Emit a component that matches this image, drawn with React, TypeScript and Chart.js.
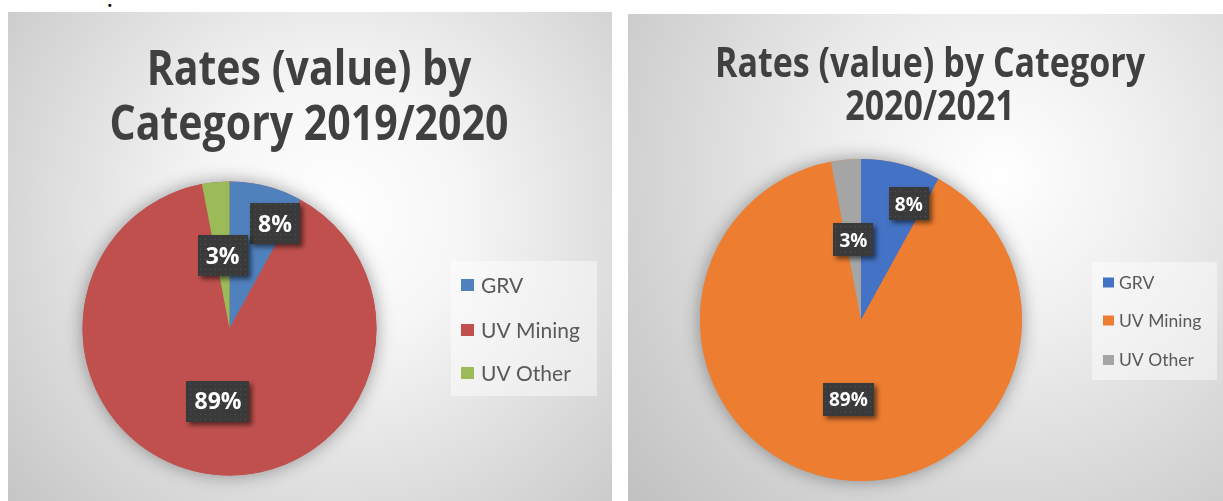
import React, { useEffect, useRef } from 'react';
import { Chart, registerables } from 'chart.js';

Chart.register(...registerables);

// ---- data ----
const categories = ['GRV', 'UV Mining', 'UV Other'];
const values1920 = [8, 89, 3];
const values2021 = [8, 89, 3];
const colors1920 = ['#4F81BD', '#C0504D', '#9BBB59'];
const colors2021 = ['#4472C4', '#ED7D31', '#A5A5A5'];
const title1920 = ['Rates (value) by', 'Category 2019/2020'];
const title2021 = ['Rates (value) by Category', '2020/2021'];

type PanelCfg = {
  x: number; y: number; w: number; h: number;
  cx: number; cy: number; r: number;
  values: number[]; colors: string[]; title: string[];
  grad: { x: number; y: number; r: number; stops: [number, string][] };
  titleFont: number; titleCenter: number; titleBaselines: number[]; titleWidth: number;
  legendBox: { x: number; y: number; w: number; h: number };
  legendFont: number; legendSq: [number, number]; legendSqX: number; legendTextX: number; legendY: number[];
  labelFont: number; labelPad: number; labelH: number;
  labelRatio: number[]; labelShift: number[];
};

const panels: PanelCfg[] = [
  {
    x: 8, y: 12, w: 604, h: 489,
    cx: 229.5, cy: 328.5, r: 147,
    values: values1920, colors: colors1920, title: title1920,
    grad: { x: 335, y: 215, r: 430, stops: [[0, '#ffffff'], [0.3, '#f6f6f6'], [1, '#c6c6c6']] },
    titleFont: 49, titleCenter: 309, titleBaselines: [85, 140], titleWidth: 399,
    legendBox: { x: 451, y: 261, w: 146, h: 135 },
    legendFont: 21, legendSq: [13, 12], legendSqX: 461, legendTextX: 481, legendY: [285, 330, 373],
    labelFont: 23, labelPad: 8, labelH: 41,
    labelRatio: [0.78, 0.5, 0.5], labelShift: [9, 0, 0],
  },
  {
    x: 628, y: 14, w: 595, h: 487,
    cx: 861, cy: 320, r: 161,
    values: values2021, colors: colors2021, title: title2021,
    grad: { x: 1000, y: 175, r: 520, stops: [[0, '#ffffff'], [0.28, '#f0f0f0'], [1, '#bdbdbd']] },
    titleFont: 42, titleCenter: 930, titleBaselines: [77, 120], titleWidth: 430,
    legendBox: { x: 1092, y: 262, w: 125, h: 118 },
    legendFont: 17.5, legendSq: [11, 10], legendSqX: 1103, legendTextX: 1119, legendY: [282.5, 320.5, 360],
    labelFont: 19, labelPad: 6, labelH: 33,
    labelRatio: [0.78, 0.5, 0.5], labelShift: [8, 0, 0],
  },
];

function makePattern(ctx: CanvasRenderingContext2D) {
  const c = document.createElement('canvas');
  c.width = 5; c.height = 5;
  const p = c.getContext('2d')!;
  p.fillStyle = '#3a3a3a';
  p.fillRect(0, 0, 5, 5);
  p.fillStyle = '#535353';
  p.fillRect(2, 2, 1, 1);
  return ctx.createPattern(c, 'repeat');
}

const TITLE_FONT = '"Open Sans"';
const LABEL_FONT = '"Open Sans"';

function makePlugin(cfg: PanelCfg) {
  return {
    id: 'panelDecor',
    beforeDraw(chart: any) {
      const ctx: CanvasRenderingContext2D = chart.ctx;
      ctx.save();
      ctx.translate(-cfg.x, -cfg.y);
      const g = ctx.createRadialGradient(cfg.grad.x, cfg.grad.y, 0, cfg.grad.x, cfg.grad.y, cfg.grad.r);
      cfg.grad.stops.forEach(([o, c]) => g.addColorStop(o, c));
      ctx.fillStyle = g;
      ctx.fillRect(cfg.x, cfg.y, cfg.w, cfg.h);
      // title
      ctx.fillStyle = '#404040';
      ctx.font = `bold ${cfg.titleFont}px ${TITLE_FONT}`;
      const widest = Math.max(...cfg.title.map((t) => ctx.measureText(t).width));
      const sx = cfg.titleWidth / widest;
      cfg.title.forEach((t, i) => {
        ctx.save();
        ctx.translate(cfg.titleCenter, cfg.titleBaselines[i]);
        ctx.scale(sx, 1);
        ctx.textAlign = 'center';
        ctx.textBaseline = 'alphabetic';
        ctx.fillText(t, 0, 0);
        ctx.restore();
      });
      // legend
      const lb = cfg.legendBox;
      ctx.fillStyle = 'rgba(255,255,255,0.45)';
      ctx.fillRect(lb.x, lb.y, lb.w, lb.h);
      ctx.font = `${cfg.legendFont}px Lato`;
      ctx.textAlign = 'left';
      ctx.textBaseline = 'alphabetic';
      categories.forEach((name, i) => {
        const yc = cfg.legendY[i];
        ctx.fillStyle = cfg.colors[i];
        ctx.fillRect(cfg.legendSqX, yc - cfg.legendSq[1] / 2, cfg.legendSq[0], cfg.legendSq[1]);
        ctx.fillStyle = '#595959';
        ctx.fillText(name, cfg.legendTextX, yc + cfg.legendFont * 0.36);
      });
      ctx.restore();
    },
    beforeDatasetsDraw(chart: any) {
      const arc = chart.getDatasetMeta(0).data[0];
      if (!arc) return;
      const ctx: CanvasRenderingContext2D = chart.ctx;
      ctx.save();
      ctx.shadowColor = 'rgba(0,0,0,0.38)';
      ctx.shadowBlur = 18;
      ctx.fillStyle = cfg.colors[1];
      ctx.beginPath();
      ctx.arc(arc.x, arc.y, arc.outerRadius, 0, Math.PI * 2);
      ctx.fill();
      ctx.restore();
    },
    afterDatasetsDraw(chart: any) {
      const meta = chart.getDatasetMeta(0);
      const ctx: CanvasRenderingContext2D = chart.ctx;
      const data: number[] = chart.data.datasets[0].data;
      const total = data.reduce((a, b) => a + b, 0);
      const pattern = makePattern(ctx);
      meta.data.forEach((arc: any, i: number) => {
        const mid = (arc.startAngle + arc.endAngle) / 2 + (cfg.labelShift[i] * Math.PI) / 180;
        const rr = arc.outerRadius * cfg.labelRatio[i];
        const lx = arc.x + Math.cos(mid) * rr;
        const ly = arc.y + Math.sin(mid) * rr;
        const text = Math.round((data[i] / total) * 100) + '%';
        ctx.save();
        ctx.font = `bold ${cfg.labelFont}px ${LABEL_FONT}`;
        const tw = ctx.measureText(text).width;
        const bw = tw + cfg.labelPad * 2;
        const bh = cfg.labelH;
        ctx.shadowColor = 'rgba(0,0,0,0.55)';
        ctx.shadowBlur = 5;
        ctx.shadowOffsetX = 3;
        ctx.shadowOffsetY = 3;
        ctx.fillStyle = pattern || '#3a3a3a';
        ctx.fillRect(Math.round(lx - bw / 2), Math.round(ly - bh / 2), Math.round(bw), bh);
        ctx.shadowColor = 'transparent';
        ctx.fillStyle = '#ffffff';
        ctx.textAlign = 'center';
        ctx.textBaseline = 'alphabetic';
        ctx.fillText(text, lx, ly + cfg.labelFont * 0.36);
        ctx.restore();
      });
    },
  };
}

function PiePanel({ cfg }: { cfg: PanelCfg }) {
  const ref = useRef<HTMLCanvasElement>(null);
  useEffect(() => {
    if (!ref.current) return;
    const lx = cfg.cx - cfg.x;
    const ly = cfg.cy - cfg.y;
    const chart = new Chart(ref.current, {
      type: 'pie',
      data: {
        labels: categories,
        datasets: [
          {
            data: cfg.values,
            backgroundColor: cfg.colors,
            borderWidth: 0,
            hoverOffset: 0,
            offset: 0,
          },
        ],
      },
      options: {
        responsive: false,
        animation: false,
        devicePixelRatio: 1,
        layout: {
          padding: {
            left: lx - cfg.r,
            top: ly - cfg.r,
            right: cfg.w - (lx + cfg.r),
            bottom: cfg.h - (ly + cfg.r),
          },
        },
        plugins: {
          legend: { display: false },
          title: { display: false },
          tooltip: { enabled: false },
        },
        events: [],
      },
      plugins: [makePlugin(cfg) as any],
    });
    return () => chart.destroy();
  }, [cfg]);
  return (
    <canvas
      ref={ref}
      width={cfg.w}
      height={cfg.h}
      style={{ position: 'absolute', left: cfg.x, top: cfg.y, width: cfg.w, height: cfg.h, display: 'block' }}
    />
  );
}

export default function App() {
  return (
    <div style={{ position: 'absolute', left: 0, top: 0, width: 1223, height: 501, background: '#ffffff', overflow: 'hidden' }}>
      <span style={{ position: 'absolute', left: 107, top: -8, fontSize: 16, fontWeight: 'bold', fontFamily: 'DejaVu Serif', color: '#000' }}>.</span>
      {panels.map((p, i) => (
        <PiePanel key={i} cfg={p} />
      ))}
    </div>
  );
}
